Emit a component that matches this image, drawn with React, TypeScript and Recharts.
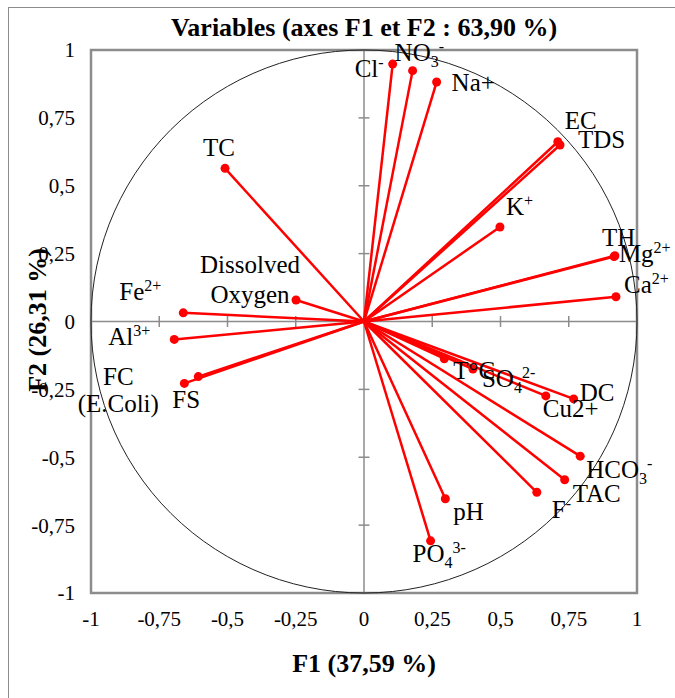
import React from 'react';
import { ScatterChart, Scatter, XAxis, YAxis, ReferenceLine, ReferenceArea } from 'recharts';

// variable names (with _{} subscript / ^{} superscript markup), F1 and F2 loadings
const variables = [
  'Cl^{-}', 'NO_{3}^{-}', 'Na+', 'EC', 'TDS', 'K^{+}', 'TH', 'Mg^{2+}', 'Ca^{2+}', 'TC',
  'Dissolved\nOxygen', 'Fe^{2+}', 'Al^{3+}', 'FC\n(E.Coli)', 'FS', 'T°C', 'SO_{4}^{2-}',
  'Cu2+', 'DC', 'HCO_{3}^{-}', 'TAC', 'F^{-}', 'pH', 'PO_{4}^{3-}',
];
const f1 = [
  0.105, 0.178, 0.266, 0.71, 0.718, 0.498, 0.916, 0.919, 0.923, -0.509,
  -0.249, -0.662, -0.695, -0.607, -0.658, 0.294, 0.399,
  0.666, 0.768, 0.792, 0.735, 0.633, 0.298, 0.244,
];
const f2 = [
  0.948, 0.924, 0.882, 0.662, 0.65, 0.348, 0.239, 0.242, 0.091, 0.564,
  0.079, 0.032, -0.066, -0.203, -0.228, -0.137, -0.175,
  -0.274, -0.285, -0.496, -0.583, -0.629, -0.653, -0.808,
];
const axisTicks = [-1, -0.75, -0.5, -0.25, 0, 0.25, 0.5, 0.75, 1];

const title = 'Variables (axes F1 et F2 : 63,90 %)';
const xTitle = 'F1 (37,59 %)';
const yTitle = 'F2 (26,31 %)';

// label placement next to each point (pixels)
const labelLayout: Record<string, { dx: number; dy: number[]; anchor?: 'start' | 'middle' }> = {
  'Cl^{-}': { dx: -38, dy: [13] },
  'NO_{3}^{-}': { dx: -18, dy: [-10] },
  'Na+': { dx: 15, dy: [9] },
  'EC': { dx: 7, dy: [-13] },
  'TDS': { dx: 18, dy: [3] },
  'K^{+}': { dx: 6, dy: [-12] },
  'TH': { dx: -12, dy: [-11] },
  'Mg^{2+}': { dx: 4, dy: [6] },
  'Ca^{2+}': { dx: 8, dy: [-4] },
  'TC': { dx: -22, dy: [-12] },
  'Dissolved\nOxygen': { dx: -46, dy: [-27, 3], anchor: 'middle' },
  'Fe^{2+}': { dx: -64, dy: [-13] },
  'Al^{3+}': { dx: -66, dy: [6] },
  'FC\n(E.Coli)': { dx: -80, dy: [8, 35], anchor: 'middle' },
  'FS': { dx: -12, dy: [25] },
  'T°C': { dx: 9, dy: [20] },
  'SO_{4}^{2-}': { dx: 9, dy: [18] },
  'Cu2+': { dx: -3, dy: [21] },
  'DC': { dx: 6, dy: [2] },
  'HCO_{3}^{-}': { dx: 6, dy: [22] },
  'TAC': { dx: 8, dy: [22] },
  'F^{-}': { dx: 15, dy: [26] },
  'pH': { dx: 8, dy: [21] },
  'PO_{4}^{3-}': { dx: -18, dy: [21] },
};

const points = variables.map((name, i) => ({ name, x: f1[i], y: f2[i] }));

// unit correlation circle
const circle = Array.from({ length: 121 }, (_, i) => {
  const a = (i * 3 * Math.PI) / 180;
  return { x: Math.cos(a), y: Math.sin(a) };
});

const FONT = '"Liberation Serif", "Times New Roman", serif';
const RED = '#FF0000';
const GREY = '#8c8c8c';
const fmt = (v: number) => String(v).replace('.', ',');

type Part = { text: string; kind: 'n' | 'sup' | 'sub' };
function parse(s: string): Part[] {
  const out: Part[] = [];
  const re = /([_^])\{([^}]*)\}|([^_^]+)/g;
  let m;
  while ((m = re.exec(s))) {
    if (m[3]) out.push({ text: m[3], kind: 'n' });
    else out.push({ text: m[2], kind: m[1] === '^' ? 'sup' : 'sub' });
  }
  return out;
}

function renderLine(s: string) {
  let cur = 0;
  return parse(s).map((p, i) => {
    const target = p.kind === 'sup' ? -9 : p.kind === 'sub' ? 6 : 0;
    const dy = target - cur;
    cur = target;
    return (
      <tspan key={i} dy={dy} fontSize={p.kind === 'n' ? 25 : 16}>
        {p.text}
      </tspan>
    );
  });
}

const LabelShape = (props: any) => {
  const { cx, cy, payload } = props;
  const lay = labelLayout[payload.name] || { dx: 6, dy: [0] };
  const lines = payload.name.split('\n');
  return (
    <g>
      {lines.map((ln: string, i: number) => (
        <text
          key={i}
          x={cx + lay.dx}
          y={cy + lay.dy[i]}
          textAnchor={lay.anchor || 'start'}
          fontFamily={FONT}
          fontSize={25}
          fill="#000"
        >
          {renderLine(ln)}
        </text>
      ))}
    </g>
  );
};

export default function App() {
  return (
    <div style={{ position: 'fixed', left: 0, top: 0, width: 675, height: 698, overflow: 'hidden', background: '#fff' }}>
      <ScatterChart width={675} height={698} margin={{ top: 50, right: 38, bottom: 45, left: 31 }} style={{ overflow: 'visible' }}>
        <XAxis
          type="number"
          dataKey="x"
          domain={[-1, 1]}
          ticks={axisTicks}
          tickFormatter={fmt}
          axisLine={false}
          tickLine={false}
          tickSize={0}
          tickMargin={18}
          height={60}
          tick={{ fill: '#000', fontSize: 21, fontFamily: FONT }}
        />
        <YAxis
          type="number"
          dataKey="y"
          domain={[-1, 1]}
          ticks={axisTicks}
          tickFormatter={fmt}
          axisLine={false}
          tickLine={false}
          tickSize={0}
          tickMargin={16}
          width={60}
          tick={{ fill: '#000', fontSize: 21, fontFamily: FONT }}
        />
        <ReferenceArea x1={-1} x2={1} y1={-1} y2={1} fill="none" fillOpacity={0} stroke={GREY} strokeWidth={2.5} ifOverflow="visible" />
        <ReferenceLine x={0} stroke={GREY} strokeWidth={1.5} />
        <ReferenceLine y={0} stroke={GREY} strokeWidth={1.5} />
        {axisTicks.filter((t) => t !== 0).map((t) => (
          <ReferenceLine key={'tx' + t} segment={[{ x: t, y: -0.02 }, { x: t, y: 0.02 }]} stroke={GREY} strokeWidth={1.5} ifOverflow="visible" />
        ))}
        {axisTicks.filter((t) => t !== 0).map((t) => (
          <ReferenceLine key={'ty' + t} segment={[{ x: -0.02, y: t }, { x: 0.02, y: t }]} stroke={GREY} strokeWidth={1.5} ifOverflow="visible" />
        ))}
        <Scatter
          data={circle}
          line={{ stroke: '#222', strokeWidth: 1 }}
          lineType="joint"
          shape={() => <g />}
          isAnimationActive={false}
        />
        {points.map((p) => (
          <ReferenceLine
            key={'v' + p.name}
            segment={[{ x: 0, y: 0 }, { x: p.x, y: p.y }]}
            stroke={RED}
            strokeWidth={2.5}
            ifOverflow="visible"
          />
        ))}
        <Scatter
          data={points}
          isAnimationActive={false}
          shape={(props: any) => <circle cx={props.cx} cy={props.cy} r={4.5} fill={RED} />}
        />
        <Scatter data={points} isAnimationActive={false} shape={LabelShape} />
      </ScatterChart>
      <svg width={675} height={698} style={{ position: 'absolute', left: 0, top: 0, pointerEvents: 'none' }}>
        <line x1={8} y1={7.5} x2={675} y2={7.5} stroke={GREY} strokeWidth={1} />
        <line x1={8.5} y1={7} x2={8.5} y2={698} stroke={GREY} strokeWidth={1} />
        <text x={364} y={36} textAnchor="middle" fontFamily={FONT} fontSize={26} fontWeight="bold" fill="#000">
          {title}
        </text>
        <text x={364} y={672} textAnchor="middle" fontFamily={FONT} fontSize={26} fontWeight="bold" fill="#000">
          {xTitle}
        </text>
        <text
          x={0}
          y={0}
          transform="translate(46,320) rotate(-90)"
          textAnchor="middle"
          fontFamily={FONT}
          fontSize={26}
          fontWeight="bold"
          fill="#000"
        >
          {yTitle}
        </text>
      </svg>
    </div>
  );
}
